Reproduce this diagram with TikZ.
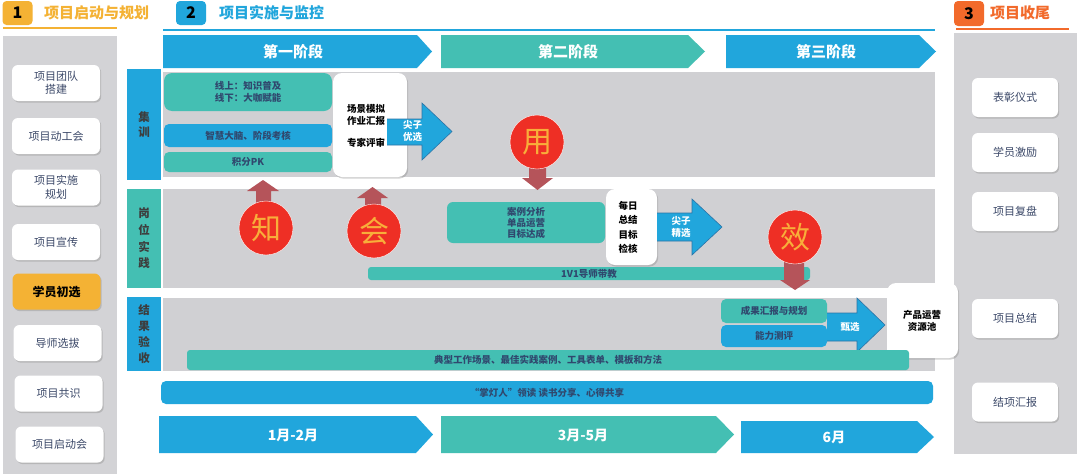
\documentclass[tikz,border=0pt]{standalone}
\usepackage{fontspec}
\setmainfont{Noto Sans CJK SC}
\usetikzlibrary{shadows}
\definecolor{cblue}{HTML}{21A6DC}
\definecolor{cteal}{HTML}{44BFB3}
\definecolor{clane}{HTML}{D0D0D3}
\definecolor{cpanel}{HTML}{D3D3D6}
\definecolor{corange}{HTML}{F4B234}
\definecolor{cor3}{HTML}{F26A2B}
\definecolor{cred}{HTML}{EE2F25}
\definecolor{cglyph}{HTML}{F8AE3A}
\definecolor{carrow}{HTML}{B5545A}
\definecolor{cnavy}{HTML}{3B4868}
\definecolor{ctext}{HTML}{30486E}
\definecolor{clabel}{HTML}{3D3D3D}
\definecolor{cborder}{HTML}{2B73A6}
\begin{document}
\begin{tikzpicture}[x=1pt,y=-1pt,
  shad/.style={drop shadow={opacity=0.35,shadow xshift=1.2pt,shadow yshift=-1.6pt}},
  wnode/.style={shad,fill=white,rounded corners=6pt,minimum width=88pt,minimum height=36pt,align=center,
    font=\fontsize{11}{13.5}\selectfont,text=cnavy,inner sep=0pt},
  rnode/.style={wnode,minimum width=86pt,minimum height=39pt},
  hbox/.style={rounded corners=4pt,minimum width=30pt,minimum height=24pt,inner sep=0pt,
    font=\fontsize{16}{16}\selectfont\bfseries,text=black},
  htxt/.style={anchor=west,inner sep=0pt,font=\fontsize{15}{15}\selectfont\bfseries},
  lanelab/.style={minimum width=34pt,inner sep=0pt,align=center,text=clabel},
  item/.style={rounded corners=5pt,inner sep=0pt,align=center,text=ctext,
    font=\fontsize{9.5}{12}\selectfont\bfseries},
  wbox/.style={shad,fill=white,rounded corners=9pt,inner sep=0pt},
  btxt/.style={inner sep=0pt,align=left,text=black,font=\fontsize{9.5}{12}\selectfont\bfseries},
  wtxt/.style={inner sep=0pt,align=center,text=white,font=\fontsize{9.5}{12}\selectfont\bfseries},
  circ/.style={circle,fill=cred,draw=white,line width=0.4pt,minimum size=54pt,inner sep=0pt,
    text=cglyph,font=\fontsize{30}{30}\selectfont},
  stxt/.style={inner sep=0pt,text=white,font=\fontsize{15}{15}\selectfont\bfseries},
  ttxt/.style={inner sep=0pt,text=white,font=\fontsize{14}{14}\selectfont\bfseries},
  barrow/.style={fill=cblue},
  bedge/.style={draw=cborder,line width=0.6pt,line join=miter},
  rarrow/.style={fill=carrow}
]
\useasboundingbox (0,0) rectangle (1084,474);
\fill[white] (0,0) rectangle (1084,474);

% ---------- headers ----------
\node[hbox,fill=corange] (h1) at (17.5,13) {1};
\node[htxt,text=corange] (h1t) at (44,13) {项目启动与规划};
\draw[corange,line width=2pt] (3,28) -- (117,28);
\node[hbox,fill=cblue] (h2) at (191,13) {2};
\node[htxt,text=cblue] (h2t) at (219,13) {项目实施与监控};
\draw[cblue,line width=2pt] (163,30) -- (935,30);
\node[hbox,fill=cor3,minimum height=25pt] (h3) at (969,13.5) {3};
\node[htxt,text=cor3] (h3t) at (990,13) {项目收尾};
\draw[cor3,line width=2pt] (956,29) -- (1069,29);

% ---------- side panels ----------
\fill[cpanel] (3,36) rectangle (117,474);
\fill[cpanel] (954,33) rectangle (1077,454);

\node[wnode] (l1) at (56,83) {项目团队\\搭建};
\node[wnode] (l2) at (56,136) {项目动工会};
\node[wnode] (l3) at (56,187.5) {项目实施\\规划};
\node[wnode] (l4) at (56,242) {项目宣传};
\node[wnode,fill=corange,text=black,font=\fontsize{12}{14}\selectfont\bfseries] (l5) at (56.5,291.5) {学员初选};
\node[wnode] (l6) at (57.5,343) {导师选拔};
\node[wnode] (l7) at (58.5,393.5) {项目共识};
\node[wnode] (l8) at (59.5,444.5) {项目启动会};

\node[rnode] (r1) at (1015,97.5) {表彰仪式};
\node[rnode] (r2) at (1015,152.5) {学员激励};
\node[rnode] (r3) at (1015,211.5) {项目复盘};
\node[rnode] (r4) at (1015,318.5) {项目总结};
\node[rnode] (r5) at (1015,402) {结项汇报};

% ---------- stage arrows ----------
\fill[cblue] (163,35) -- (417,35) -- (432,51.5) -- (417,68) -- (163,68) -- cycle;
\node[stxt] (s1) at (293,51.5) {第一阶段};
\fill[cteal] (441,35) -- (688,35) -- (705,51.5) -- (688,68) -- (441,68) -- cycle;
\node[stxt] (s2) at (568,51.5) {第二阶段};
\fill[cblue] (726,35) -- (919,35) -- (936,51.5) -- (919,68) -- (726,68) -- cycle;
\node[stxt] (s3) at (826,51.5) {第三阶段};

% ---------- lanes ----------
\fill[clane] (163,72) rectangle (935,177);
\fill[clane] (163,189) rectangle (935,288);
\fill[clane] (163,298) rectangle (935,371);
\node[lanelab,fill=cblue,minimum height=111pt,font=\fontsize{11.5}{15}\selectfont\bfseries] (L1) at (144,124.5) {集\\训};
\node[lanelab,fill=cteal,minimum height=99pt,font=\fontsize{11.5}{16.7}\selectfont\bfseries] (L2) at (144,238.5) {岗\\位\\实\\践};
\node[lanelab,fill=cblue,minimum height=74pt,font=\fontsize{11.5}{16}\selectfont\bfseries] (L3) at (144,334) {结\\果\\验\\收};

% ---------- lane 1 ----------
\node[item,fill=cteal,rounded corners=8pt,minimum width=168pt,minimum height=38pt,align=left] (i1) at (248,92) {线上：知识普及\\线下：大咖赋能};
\node[item,fill=cblue,minimum width=168pt,minimum height=23pt] (i2) at (248,135.5) {智慧大脑、阶段考核};
\node[item,fill=cteal,minimum width=168pt,minimum height=20pt] (i3) at (248,162) {积分PK};
\node[wbox,minimum width=74pt,minimum height=104pt] (w1) at (370,125) {};
\node[btxt] (w1t) at (366,125.5) {场景模拟\\作业汇报\\[10pt]专家评审};
\fill[barrow] (387,119) -- (422,119) -- (422,103) -- (452,131.5) -- (422,160) -- (422,145) -- (387,145) -- cycle;
\draw[bedge] (387,119) -- (422,119) -- (422,103) -- (452,131.5) -- (422,160) -- (422,145) -- (387,145);
\node[wtxt] (a1t) at (412.5,131) {尖子\\优选};

% ---------- lane 2 ----------
\node[item,fill=cteal,rounded corners=6pt,minimum width=158pt,minimum height=41pt,align=left,font=\fontsize{9.5}{11}\selectfont\bfseries] (t2) at (526,222.5) {案例分析\\单品运营\\目标达成};
\node[wbox,minimum width=51pt,minimum height=76pt] (w2) at (631.5,227) {};
\node[btxt,font=\fontsize{9.5}{14.3}\selectfont\bfseries] (w2t) at (628,227.5) {每日\\总结\\目标\\检核};
\fill[barrow] (657,213) -- (692,213) -- (692,199) -- (722,227) -- (692,255) -- (692,241) -- (657,241) -- cycle;
\draw[bedge] (657,213) -- (692,213) -- (692,199) -- (722,227) -- (692,255) -- (692,241) -- (657,241);
\node[wtxt] (a2t) at (681,227) {尖子\\精选};
\node[item,fill=cteal,rounded corners=3pt,minimum width=442pt,minimum height=13pt] (v1) at (589,273.5) {1V1导师带教};

% ---------- lane 3 ----------
\node[item,fill=cteal,minimum width=106pt,minimum height=24pt] (j1) at (774,311) {成果汇报与规划};
\node[item,fill=cblue,minimum width=106pt,minimum height=22pt] (j2) at (774,336) {能力测评};
\fill[barrow] (827,313) -- (857,313) -- (857,298) -- (885,325) -- (857,352) -- (857,341) -- (827,341) -- cycle;
\draw[bedge] (827,313) -- (857,313) -- (857,298) -- (885,325) -- (857,352) -- (857,341) -- (827,341);
\node[wtxt] (a3t) at (850,327) {甄选};
\node[wbox,minimum width=71pt,minimum height=75pt] (w3) at (922.5,320.5) {};
\node[btxt,align=center] (w3t) at (922,321) {产品运营\\资源池};
\node[item,fill=cteal,rounded corners=3pt,minimum width=722pt,minimum height=20pt] (k1) at (548,360) {典型工作场景、最佳实践案例、工具表单、模板和方法};
\node[item,fill=cblue,minimum width=772pt,minimum height=23pt] (m1) at (547,392.5) {“掌灯人”领读\ 读书分享、心得共享};

% ---------- red arrows and circles ----------
\fill[rarrow] (256,205) -- (256,191) -- (247,191) -- (263,180) -- (279,191) -- (271,191) -- (271,205) -- cycle;
\fill[rarrow] (365,207) -- (365,198) -- (357,198) -- (372.5,187) -- (388,198) -- (381,198) -- (381,207) -- cycle;
\fill[rarrow] (529,165) -- (546,165) -- (546,178) -- (553,178) -- (537.5,190) -- (522,178) -- (529,178) -- cycle;
\fill[rarrow] (784,260) -- (804,260) -- (804,280) -- (810,280) -- (795,290) -- (780,280) -- (784,280) -- cycle;
\node[circ] (c1) at (266,228) {知};
\node[circ] (c2) at (374,231) {会};
\node[circ] (c3) at (537,142) {用};
\node[circ] (c4) at (795,237) {效};

% ---------- timeline ----------
\fill[cblue] (159,416) -- (416,416) -- (433,434.5) -- (416,453) -- (159,453) -- cycle;
\node[ttxt] (m1t) at (293,435) {1月-2月};
\fill[cteal] (441,416) -- (716,416) -- (734,434.5) -- (716,453) -- (441,453) -- cycle;
\node[ttxt] (m2t) at (583,435) {3月-5月};
\fill[cblue] (741,421) -- (917,421) -- (934,437) -- (917,453) -- (741,453) -- cycle;
\node[ttxt] (m3t) at (834,437.5) {6月};
\end{tikzpicture}
\end{document}
